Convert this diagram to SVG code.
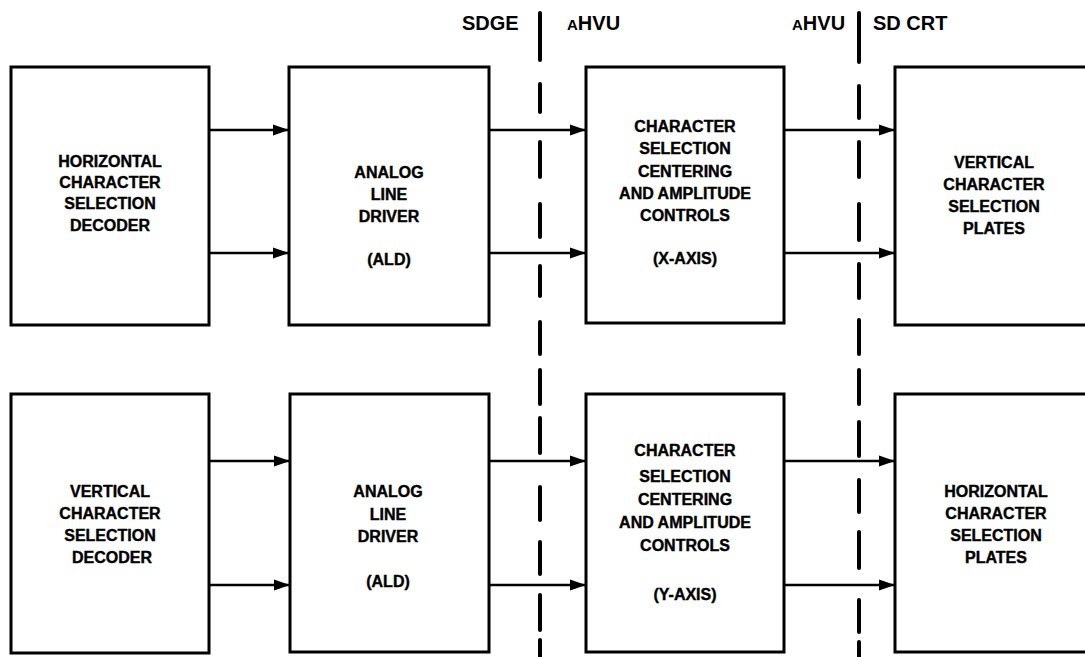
<svg xmlns="http://www.w3.org/2000/svg" width="1085" height="657" viewBox="0 0 1085 657">
<style>
.box{fill:#fff;stroke:#000;stroke-width:3}
.t{font-family:"Liberation Sans",Arial,sans-serif;font-weight:bold;font-size:16px;text-anchor:middle;fill:#000;stroke:#000;stroke-width:0.4}
.h{font-family:"Liberation Sans",Arial,sans-serif;font-weight:bold;font-size:20px;fill:#000}
.c{stroke:#000;stroke-width:2.5;fill:none}
.d{stroke:#000;stroke-width:4;stroke-linecap:round;fill:none}
</style>
<defs>
<marker id="ah" markerWidth="16" markerHeight="14" refX="16" refY="7" orient="auto" markerUnits="userSpaceOnUse">
<path d="M0,1.5 L16,7 L0,12.5 Z" fill="#000"/>
</marker>
</defs>
<rect width="1085" height="657" fill="#fff"/>
<g id="labels">
<text class="h" x="462" y="30">SDGE</text>
<text class="h" x="567" y="30"><tspan font-size="15">A</tspan>HVU</text>
<text class="h" x="792" y="30"><tspan font-size="15">A</tspan>HVU</text>
<text class="h" x="873" y="30">SD CRT</text>
</g>
<g id="boundaries">
<path class="d" d="M540,13V60M540,84V112M540,142V177M540,204V237M540,266V296M540,322V354M540,370V404M540,418V453M540,487V520M540,542V574M540,595V630M540,640V660"/>
<path class="d" d="M859,13V62M859,86V118M859,142V177M859,204V240M859,264V298M859,320V354M859,370V404M859,422V456M859,480V512M859,532V568M859,600V632M859,642V660"/>
</g>
<g id="connectors">
<line class="c" x1="209" y1="130" x2="289" y2="130" marker-end="url(#ah)"/>
<line class="c" x1="209" y1="253" x2="289" y2="253" marker-end="url(#ah)"/>
<line class="c" x1="489" y1="130" x2="586" y2="130" marker-end="url(#ah)"/>
<line class="c" x1="489" y1="253" x2="586" y2="253" marker-end="url(#ah)"/>
<line class="c" x1="784" y1="130" x2="895" y2="130" marker-end="url(#ah)"/>
<line class="c" x1="784" y1="253" x2="895" y2="253" marker-end="url(#ah)"/>
<line class="c" x1="209" y1="461" x2="290" y2="461" marker-end="url(#ah)"/>
<line class="c" x1="209" y1="585" x2="290" y2="585" marker-end="url(#ah)"/>
<line class="c" x1="489" y1="461" x2="586" y2="461" marker-end="url(#ah)"/>
<line class="c" x1="489" y1="585" x2="586" y2="585" marker-end="url(#ah)"/>
<line class="c" x1="784" y1="461" x2="895" y2="461" marker-end="url(#ah)"/>
<line class="c" x1="784" y1="585" x2="895" y2="585" marker-end="url(#ah)"/>
</g>
<g id="h-decoder">
<rect class="box" x="11" y="67" width="198" height="258"/>
<text class="t" x="110" y="167">HORIZONTAL</text>
<text class="t" x="110" y="188">CHARACTER</text>
<text class="t" x="110" y="209">SELECTION</text>
<text class="t" x="110" y="231">DECODER</text>
</g>
<g id="ald-x">
<rect class="box" x="289" y="67" width="200" height="258"/>
<text class="t" x="389" y="178">ANALOG</text>
<text class="t" x="389" y="200">LINE</text>
<text class="t" x="389" y="222">DRIVER</text>
<text class="t" x="389" y="265">(ALD)</text>
</g>
<g id="ctrl-x">
<rect class="box" x="586" y="67" width="198" height="256"/>
<text class="t" x="685" y="132">CHARACTER</text>
<text class="t" x="685" y="154">SELECTION</text>
<text class="t" x="685" y="177">CENTERING</text>
<text class="t" x="685" y="199">AND AMPLITUDE</text>
<text class="t" x="685" y="221">CONTROLS</text>
<text class="t" x="685" y="264">(X-AXIS)</text>
</g>
<g id="v-plates">
<rect class="box" x="895" y="67" width="200" height="258"/>
<text class="t" x="994" y="168">VERTICAL</text>
<text class="t" x="994" y="190">CHARACTER</text>
<text class="t" x="994" y="212">SELECTION</text>
<text class="t" x="994" y="234">PLATES</text>
</g>
<g id="v-decoder">
<rect class="box" x="11" y="394" width="198" height="259"/>
<text class="t" x="110" y="497">VERTICAL</text>
<text class="t" x="110" y="519">CHARACTER</text>
<text class="t" x="110" y="541">SELECTION</text>
<text class="t" x="112" y="563">DECODER</text>
</g>
<g id="ald-y">
<rect class="box" x="290" y="394" width="199" height="258"/>
<text class="t" x="388" y="497">ANALOG</text>
<text class="t" x="388" y="520">LINE</text>
<text class="t" x="388" y="542">DRIVER</text>
<text class="t" x="388" y="587">(ALD)</text>
</g>
<g id="ctrl-y">
<rect class="box" x="586" y="394" width="198" height="258"/>
<text class="t" x="685" y="456">CHARACTER</text>
<text class="t" x="685" y="482">SELECTION</text>
<text class="t" x="685" y="505">CENTERING</text>
<text class="t" x="685" y="528">AND AMPLITUDE</text>
<text class="t" x="685" y="551">CONTROLS</text>
<text class="t" x="685" y="600">(Y-AXIS)</text>
</g>
<g id="h-plates">
<rect class="box" x="895" y="394" width="200" height="258"/>
<text class="t" x="996" y="497">HORIZONTAL</text>
<text class="t" x="996" y="519">CHARACTER</text>
<text class="t" x="996" y="541">SELECTION</text>
<text class="t" x="996" y="563">PLATES</text>
</g>
</svg>
